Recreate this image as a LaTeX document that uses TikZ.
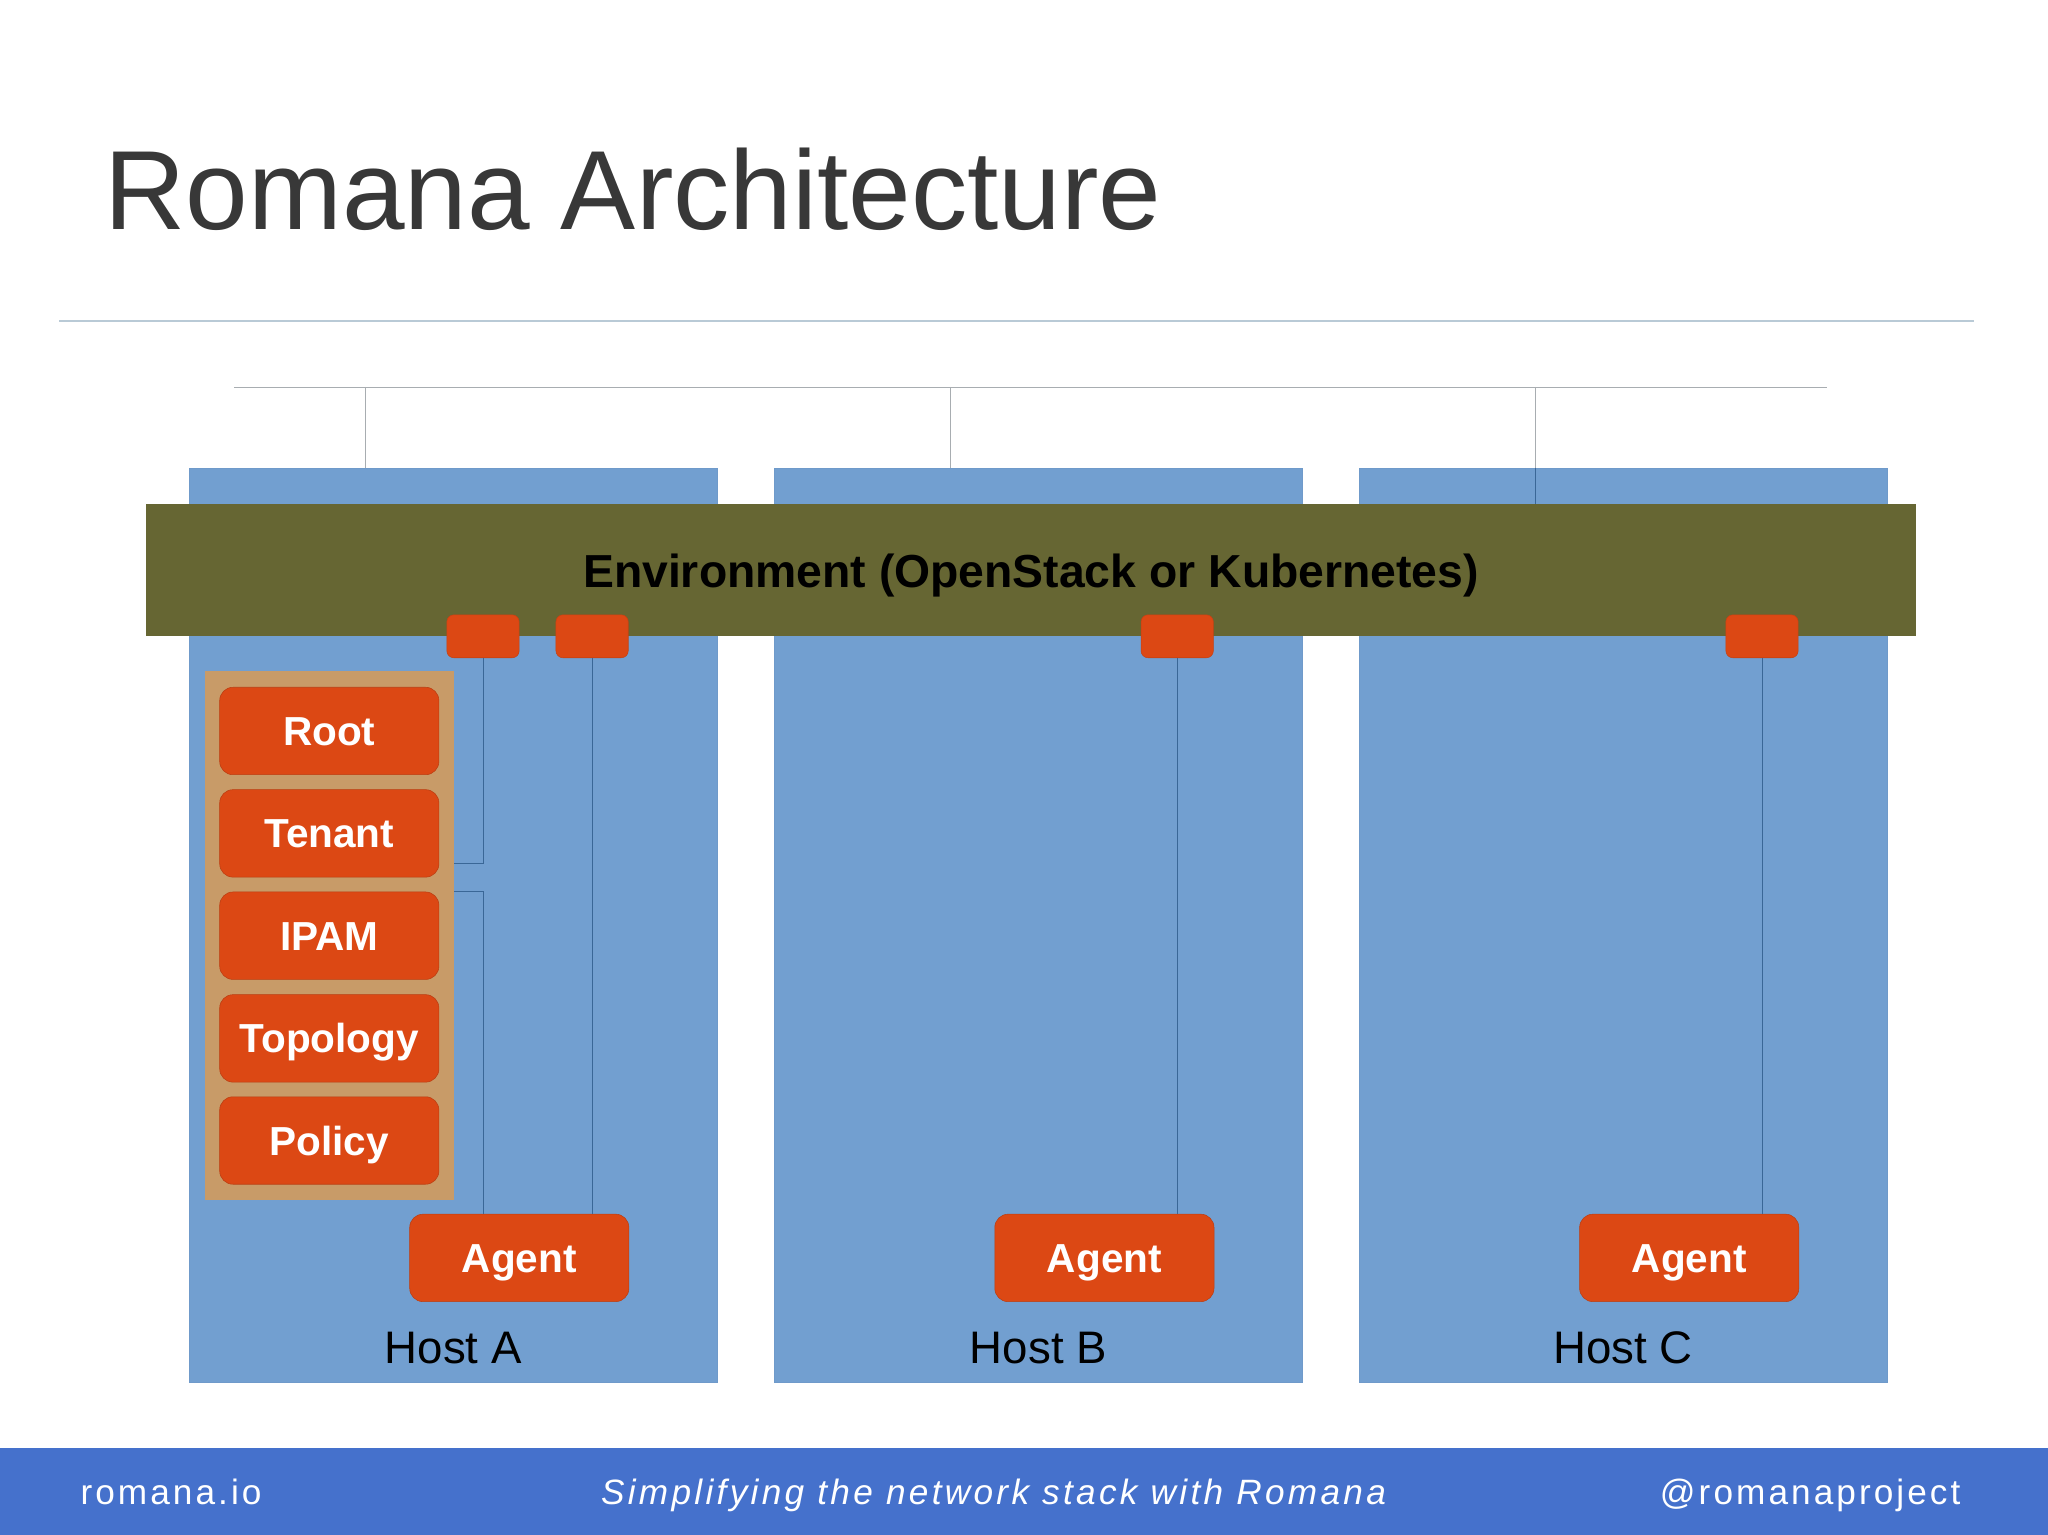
\documentclass[tikz,border=0pt]{standalone}
\usepackage{fontspec}
\setmainfont{Liberation Sans}
\definecolor{hostblue}{HTML}{729FD0}
\definecolor{envgreen}{HTML}{666633}
\definecolor{svcorange}{HTML}{DC4814}
\definecolor{stacktan}{HTML}{C89B68}
\definecolor{barblue}{HTML}{4571CC}
\definecolor{wireblue}{HTML}{3A6797}
\definecolor{railgray}{HTML}{A8ADB1}
\definecolor{rulegray}{HTML}{B9CAD6}
\tikzset{
  hostbox/.style={rectangle,fill=hostblue,draw=hostblue!97!black,line width=0.15pt,minimum width=197.8pt,minimum height=342.7pt,inner sep=0},
  svcbox/.style={rectangle,rounded corners=5pt,fill=svcorange,draw=svcorange!85!black,line width=0.2pt,text=white,font=\bfseries\fontsize{15.2}{15.2}\selectfont,minimum width=82.2pt,minimum height=32.8pt,inner sep=0,text height=10.9pt,text depth=0pt},
  portbox/.style={rectangle,rounded corners=2.6pt,fill=svcorange,draw=svcorange!90!black,line width=0.2pt,minimum width=27.1pt,minimum height=16.1pt,inner sep=0},
  wire/.style={draw=wireblue,line width=0.3pt},
  rail/.style={draw=railgray,line width=0.3pt},
  barlabel/.style={text=white,inner sep=0,anchor=base,font=\fontsize{13.2}{13.2}\selectfont}
}
\begin{document}
\begin{tikzpicture}[x=0.375pt,y=-0.375pt]
  \useasboundingbox (0,0) rectangle (2048,1535);

  \node[text=black!78,inner sep=0,anchor=base west,font=\fontsize{42.2}{42.2}\selectfont] (title) at (104,229.5) {Romana Architecture};
  \draw[draw=rulegray,line width=0.4pt] (59,321) -- (1974,321);

  \foreach \h/\x in {A/453.3, B/1038.4, C/1623.2} {
    \node[hostbox] (h\h) at (\x,924.8) {};
    \node[inner sep=0,anchor=base,font=\fontsize{17.1}{17.1}\selectfont] (l\h) at (\x,1363.5) {Host \h};
  }

  \coordinate (railw) at (234,387);
  \coordinate (raile) at (1827,387);
  \draw[rail] (railw) -- (raile);
  \foreach \h/\x in {A/365.4, B/950.2} {
    \coordinate (d\h) at (\x,387);
    \draw[rail] (d\h) -- (d\h |- h\h.north);
  }

  \node[rectangle,fill=envgreen,minimum width=663.75pt,minimum height=49.5pt,inner sep=0,font=\bfseries\fontsize{17.37}{17.37}\selectfont,text height=12.8pt,text depth=0pt] (env) at (1031,570.3) {Environment (OpenStack or Kubernetes)};
  \coordinate (dC) at (1535.3,387);
  \draw[rail] (dC) -- (dC |- hC.north);
  \draw[wire] (dC |- hC.north) -- (dC |- env.north);

  \node[rectangle,fill=stacktan,minimum width=93.7pt,minimum height=198.4pt,inner sep=0] (stack) at (329.5,935.3) {};
  \foreach \s/\y in {Root/731, Tenant/833.4, IPAM/935.7, Topology/1038.4, Policy/1140.5} {
    \node[svcbox] (\s) at (329.3,\y) {\s};
  }

  \node[portbox] (p0) at (483,636.3) {};
  \foreach \h/\x in {A/453.3, B/1038.4, C/1623.2} {
    \node[svcbox] (a\h) at (\x+66,1257.9) {Agent};
    \node[portbox] (p\h) at (\x+138.8,636.3) {};
    \draw[wire] (p\h) -- (p\h |- a\h.north);
  }

  \coordinate (stackin) at (454.2,862.9);
  \coordinate (stackout) at (454.2,891.8);
  \draw[wire] (p0.south) |- (stackin);
  \draw[wire] (stackout) -| (p0 |- aA.north);

  \fill[barblue] (0,1447.6) rectangle (2048,1535);
  \node[barlabel,anchor=base west] (site) at (80,1504.5) {\addfontfeature{LetterSpace=8.7}romana.io};
  \node[barlabel,font=\fontsize{13.2}{13.2}\selectfont\itshape] (motto) at (993.5,1504.5) {\addfontfeature{LetterSpace=9.4}Simplifying the network stack with Romana};
  \node[barlabel,anchor=base east] (handle) at (1961,1504.5) {\addfontfeature{LetterSpace=8.7}@romanaproject};
\end{tikzpicture}
\end{document}
